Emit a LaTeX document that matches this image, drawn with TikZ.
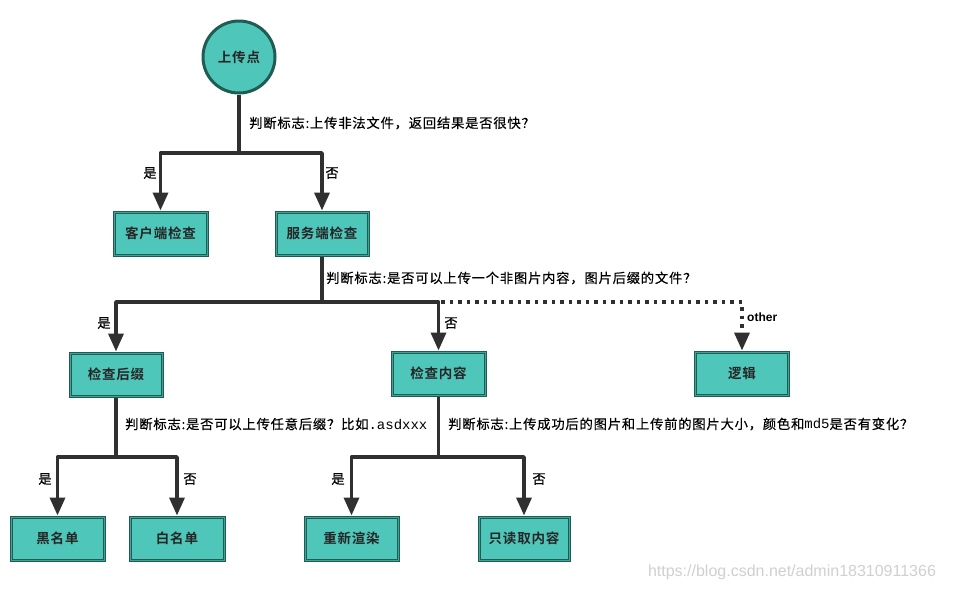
\documentclass[tikz,border=0pt]{standalone}
\usepackage{fontspec}
\setmainfont{Liberation Sans}
\setmonofont{Liberation Mono}
\newfontfamily\cjk[LetterSpace=6,FakeBold=0.4]{Noto Sans CJK SC}
\newfontfamily\cjkbold[LetterSpace=6]{Noto Sans CJK SC Bold}
\usetikzlibrary{arrows.meta}
\definecolor{tealfill}{HTML}{4FC6BA}
\definecolor{tealdark}{HTML}{1F5C54}
\definecolor{tealin}{HTML}{3FA395}
\definecolor{linec}{HTML}{303030}
\definecolor{wmark}{HTML}{D0D0D0}
\tikzset{
  box/.style={draw=tealdark, line width=3pt, fill=tealfill, minimum height=43pt,
    inner sep=0pt, font=\cjkbold\fontsize{13.5}{15}\selectfont, text=black!85,
    postaction={draw=tealin, line width=0.8pt, inner sep=0pt}},
  startnode/.style={circle, draw=tealdark, line width=3pt, fill=tealfill, minimum size=72pt,
    inner sep=0pt, font=\cjkbold\fontsize{13.5}{15}\selectfont, text=black!85},
  conn/.style={draw=linec, line width=3.5pt, line join=round},
  arr/.style={conn, -{Triangle[length=18pt, width=15pt]}},
  dotarr/.style={draw=linec, line width=3.5pt, dash pattern=on 3.5pt off 5pt,
    -{Triangle[length=18pt, width=15pt]}},
  lbl/.style={font=\cjk\fontsize{13.3}{15}\selectfont, text=black, inner sep=0pt},
  qlbl/.style={lbl, anchor=west},
  mono/.style={},
}
\newcommand{\monotext}[1]{{\ttfamily\fontsize{14}{15}\selectfont #1}}
\begin{document}
\begin{tikzpicture}[x=1pt, y=-1pt]
\useasboundingbox (0,0) rectangle (971,590);
\fill[white] (0,0) rectangle (971,590);

% nodes
\node[startnode] (start) at (239,57) {上传点};
\node[box, minimum width=93pt] (client) at (160.5,233.5) {客户端检查};
\node[box, minimum width=92pt] (server) at (322,233.5) {服务端检查};
\node[box, minimum width=92pt] (suffix) at (116,374.5) {检查后缀};
\node[box, minimum width=93pt] (content) at (438.5,373.5) {检查内容};
\node[box, minimum width=93pt] (logic) at (742,373.5) {逻辑};
\node[box, minimum width=93pt] (black) at (57.5,538.5) {黑名单};
\node[box, minimum width=94pt] (white) at (177,538.5) {白名单};
\node[box, minimum width=93pt] (render) at (351.5,538.5) {重新渲染};
\node[box, minimum width=90pt] (readonly) at (524,538.5) {只读取内容};

% junctions
\coordinate (j1) at (239,153);
\coordinate (j2) at (322,302);
\coordinate (j3) at (116,457);
\coordinate (j4) at (438.5,457);

% connectors
\draw[conn] (start.south) -- (j1);
\draw[arr] (j1) -| (client.north);
\draw[arr] (j1) -| (server.north);

\draw[dotarr] (j2) -| (logic.north);
\draw[conn] (server.south) -- (j2);
\draw[arr] (j2) -| (suffix.north);
\draw[arr] (j2) -| (content.north);

\draw[conn] (suffix.south) -- (j3);
\draw[arr] (j3) -| (black.north);
\draw[arr] (j3) -| (white.north);

\draw[conn] (content.south) -- (j4);
\draw[arr] (j4) -| (render.north);
\draw[arr] (j4) -| (readonly.north);

% labels
\node[qlbl] (q1) at (249,123) {判断标志:上传非法文件，返回结果是否很快？};
\node[lbl] (y1) at (150,173) {是};
\node[lbl] (n1) at (332,173) {否};
\node[qlbl] (q2) at (326,278) {判断标志:是否可以上传一个非图片内容，图片后缀的文件？};
\node[lbl] (y2) at (104,323) {是};
\node[lbl] (n2) at (451,323) {否};
\node[lbl, anchor=west, font=\bfseries\fontsize{12}{14}\selectfont] (oth) at (747,317) {other};
\node[qlbl] (q3) at (125,424) {判断标志:是否可以上传任意后缀？比如\monotext{.asdxxx}};
\node[qlbl] (q4) at (448,424) {判断标志:上传成功后的图片和上传前的图片大小，颜色和\monotext{md5}是否有变化？};
\node[lbl] (y3) at (45,479) {是};
\node[lbl] (n3) at (190,479) {否};
\node[lbl] (y4) at (338,479) {是};
\node[lbl] (n4) at (539,479) {否};

\node[font=\fontsize{16}{18}\selectfont, text=wmark, inner sep=0pt] (wm) at (792,572) {https://blog.csdn.net/admin18310911366};
\end{tikzpicture}
\end{document}
